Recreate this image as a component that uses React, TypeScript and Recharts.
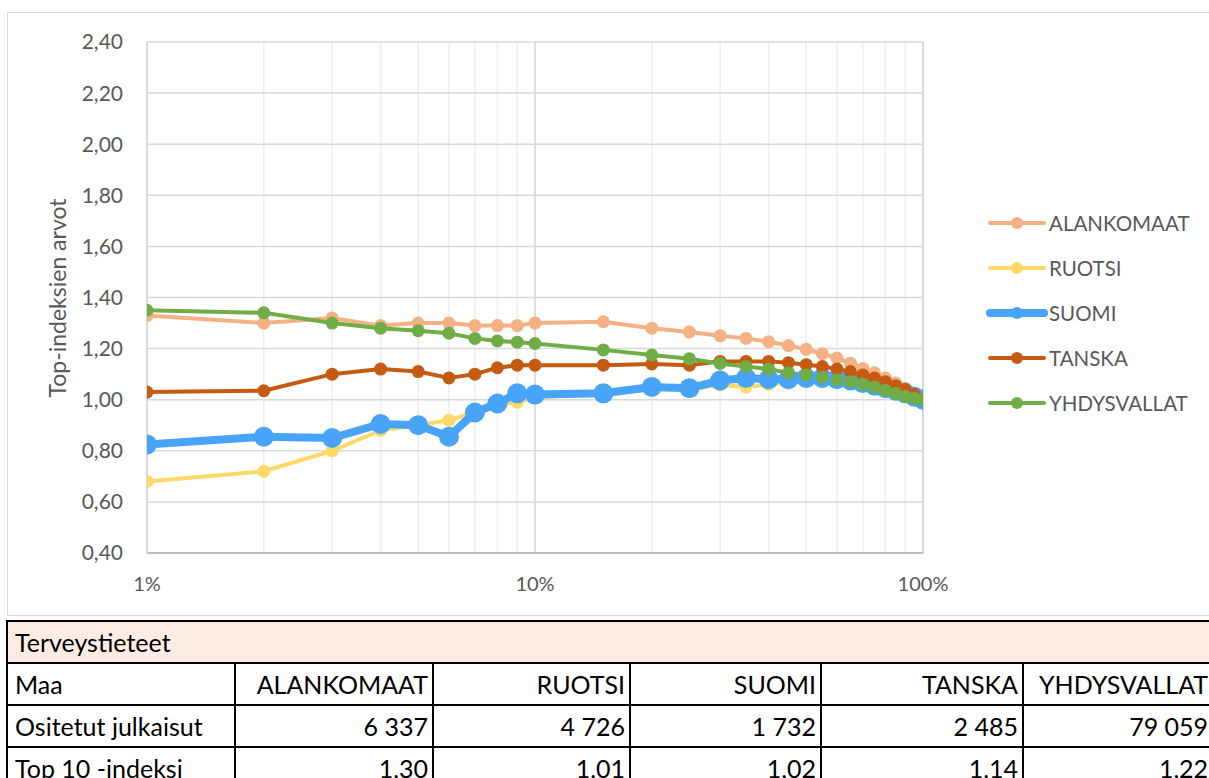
import { LineChart, Line, XAxis, YAxis, CartesianGrid, Legend, ReferenceLine } from 'recharts'

// x positions (percentile, log axis)
const percentiles = [1, 2, 3, 4, 5, 6, 7, 8, 9, 10, 15, 20, 25, 30, 35, 40, 45, 50, 55, 60, 65, 70, 75, 80, 85, 90, 95, 100]

const alankomaat = [1.33, 1.30, 1.32, 1.29, 1.30, 1.30, 1.29, 1.29, 1.29, 1.30, 1.305, 1.28, 1.265, 1.25, 1.24, 1.227, 1.212, 1.197, 1.18, 1.163, 1.143, 1.122, 1.105, 1.085, 1.065, 1.045, 1.022, 1.00]
const ruotsi = [0.68, 0.72, 0.80, 0.88, 0.90, 0.92, 0.95, 0.98, 0.99, 1.01, 1.02, 1.04, 1.04, 1.058, 1.05, 1.06, 1.065, 1.07, 1.07, 1.07, 1.065, 1.06, 1.05, 1.04, 1.03, 1.02, 1.01, 1.00]
const suomi = [0.825, 0.855, 0.85, 0.905, 0.90, 0.855, 0.95, 0.985, 1.025, 1.02, 1.025, 1.05, 1.045, 1.075, 1.085, 1.08, 1.08, 1.085, 1.085, 1.08, 1.075, 1.065, 1.055, 1.045, 1.035, 1.025, 1.012, 1.00]
const tanska = [1.03, 1.035, 1.10, 1.12, 1.11, 1.085, 1.10, 1.125, 1.135, 1.135, 1.135, 1.14, 1.135, 1.15, 1.15, 1.15, 1.145, 1.137, 1.13, 1.12, 1.11, 1.097, 1.085, 1.07, 1.055, 1.04, 1.02, 1.00]
const yhdysvallat = [1.35, 1.34, 1.30, 1.28, 1.27, 1.26, 1.24, 1.23, 1.225, 1.22, 1.195, 1.175, 1.16, 1.142, 1.13, 1.12, 1.105, 1.097, 1.088, 1.078, 1.07, 1.06, 1.05, 1.037, 1.025, 1.013, 1.005, 1.00]

const xTicks = [1, 2, 3, 4, 5, 6, 7, 8, 9, 10, 20, 30, 40, 50, 60, 70, 80, 90, 100]
const xLabelled = [1, 10, 100]
const yTicks = [0.4, 0.6, 0.8, 1.0, 1.2, 1.4, 1.6, 1.8, 2.0, 2.2, 2.4]

// table below the chart
const tableTitle = 'Terveystieteet'
const countries = ['ALANKOMAAT', 'RUOTSI', 'SUOMI', 'TANSKA', 'YHDYSVALLAT']
const publications = ['6 337', '4 726', '1 732', '2 485', '79 059']
const top10 = ['1,30', '1,01', '1,02', '1,14', '1,22']

const series = [
  { key: 'ALANKOMAAT', values: alankomaat, color: '#f4b183', width: 4, r: 6.5 },
  { key: 'RUOTSI', values: ruotsi, color: '#ffd966', width: 4, r: 6.5 },
  { key: 'SUOMI', values: suomi, color: '#48a4f9', width: 8, r: 10 },
  { key: 'TANSKA', values: tanska, color: '#c55a11', width: 4, r: 6.5 },
  { key: 'YHDYSVALLAT', values: yhdysvallat, color: '#70ad47', width: 4, r: 6.5 },
]

const rows = percentiles.map((p, i) => {
  const row: Record<string, number> = { p }
  series.forEach((s) => {
    row[s.key] = s.values[i]
  })
  return row
})

const FONT = 'Lato, sans-serif'
const GREY = '#595959'

function LegendBox() {
  return (
    <div style={{ fontFamily: FONT }}>
      {series.map((s) => (
        <div key={s.key} style={{ display: 'flex', alignItems: 'center', height: 45 }}>
          <svg width={62} height={20}>
            <line x1={4} y1={10} x2={58} y2={10} stroke={s.color} strokeWidth={s.width} strokeLinecap="round" />
            <circle cx={31} cy={10} r={6} fill={s.color} />
          </svg>
          <span style={{ fontSize: 20.5, color: GREY, marginLeft: 1 }}>{s.key}</span>
        </div>
      ))}
    </div>
  )
}

const cell = {
  border: '2px solid #000',
  padding: '0 7px',
  height: 40,
  fontSize: 25,
  whiteSpace: 'nowrap' as const,
  lineHeight: '40px',
  overflow: 'hidden',
}

export default function App() {
  return (
    <div style={{ position: 'absolute', left: 0, top: 0, width: 1209, height: 778, overflow: 'hidden', background: '#fff' }}>
      {/* chart frame */}
      <div style={{ position: 'absolute', left: 7, top: 12, width: 1215, height: 602, border: '1.5px solid #d9d9d9' }} />

      <div style={{ position: 'absolute', left: 0, top: 0 }}>
        <LineChart width={1209} height={615} data={rows} margin={{ top: 42, right: 66, bottom: 12, left: 0 }}>
          <CartesianGrid horizontal={false} stroke="#eeeeee" strokeWidth={1.5} />
          <CartesianGrid vertical={false} stroke="#d9d9d9" strokeWidth={1.5} />
          <ReferenceLine x={10} stroke="#d9d9d9" strokeWidth={1.5} />
          <ReferenceLine x={100} stroke="#d9d9d9" strokeWidth={2} />
          <XAxis
            dataKey="p"
            type="number"
            scale="log"
            domain={[1, 100]}
            allowDataOverflow
            ticks={xTicks}
            interval={0}
            tickFormatter={(v: number) => (xLabelled.includes(v) ? `${v}%` : '')}
            axisLine={{ stroke: '#bfbfbf', strokeWidth: 2 }}
            tickLine={false}
            tickSize={0}
            tickMargin={24}
            height={50}
            tick={{ fill: GREY, fontSize: 20, fontFamily: FONT }}
          />
          <YAxis
            type="number"
            domain={[0.4, 2.4]}
            ticks={yTicks}
            interval={0}
            width={147}
            tickFormatter={(v: number) => v.toFixed(2).replace('.', ',')}
            axisLine={{ stroke: '#d9d9d9', strokeWidth: 2 }}
            tickLine={false}
            tickSize={0}
            tickMargin={24}
            tick={{ fill: GREY, fontSize: 21, fontFamily: FONT }}
          />
          <Legend
            layout="vertical"
            align="right"
            verticalAlign="middle"
            content={() => <LegendBox />}
            wrapperStyle={{ left: 986, top: 200, width: 220 }}
          />
          {series.map((s) => (
            <Line
              key={s.key}
              dataKey={s.key}
              name={s.key}
              type="linear"
              stroke={s.color}
              strokeWidth={s.width}
              dot={{ r: s.r, fill: s.color, stroke: s.color, strokeWidth: 0 }}
              activeDot={false}
              isAnimationActive={false}
            />
          ))}
        </LineChart>
      </div>

      {/* y axis title */}
      <div
        style={{
          position: 'absolute',
          left: 57,
          top: 298,
          transform: 'translate(-50%, -50%) rotate(-90deg)',
          whiteSpace: 'nowrap',
          fontFamily: FONT,
          fontSize: 23,
          color: GREY,
        }}
      >
        Top-indeksien arvot
      </div>

      <table
        style={{
          position: 'absolute',
          left: 6,
          top: 620,
          borderCollapse: 'collapse',
          fontFamily: FONT,
          color: '#000',
          tableLayout: 'fixed',
          width: 1206,
        }}
      >
        <colgroup>
          <col style={{ width: 228 }} />
          <col style={{ width: 198 }} />
          <col style={{ width: 197 }} />
          <col style={{ width: 191 }} />
          <col style={{ width: 202 }} />
          <col style={{ width: 190 }} />
        </colgroup>
        <tbody>
          <tr>
            <td colSpan={6} style={{ ...cell, background: '#fcece3', textAlign: 'left' }}>
              {tableTitle}
            </td>
          </tr>
          <tr>
            <td style={{ ...cell, textAlign: 'left' }}>Maa</td>
            {countries.map((c) => (
              <td key={c} style={{ ...cell, textAlign: 'right', paddingRight: 4 }}>{c}</td>
            ))}
          </tr>
          <tr>
            <td style={{ ...cell, textAlign: 'left' }}>Ositetut julkaisut</td>
            {publications.map((v, i) => (
              <td key={i} style={{ ...cell, textAlign: 'right', paddingRight: 4 }}>{v}</td>
            ))}
          </tr>
          <tr>
            <td style={{ ...cell, textAlign: 'left' }}>Top 10 -indeksi</td>
            {top10.map((v, i) => (
              <td key={i} style={{ ...cell, textAlign: 'right', paddingRight: 4 }}>{v}</td>
            ))}
          </tr>
        </tbody>
      </table>
    </div>
  )
}
